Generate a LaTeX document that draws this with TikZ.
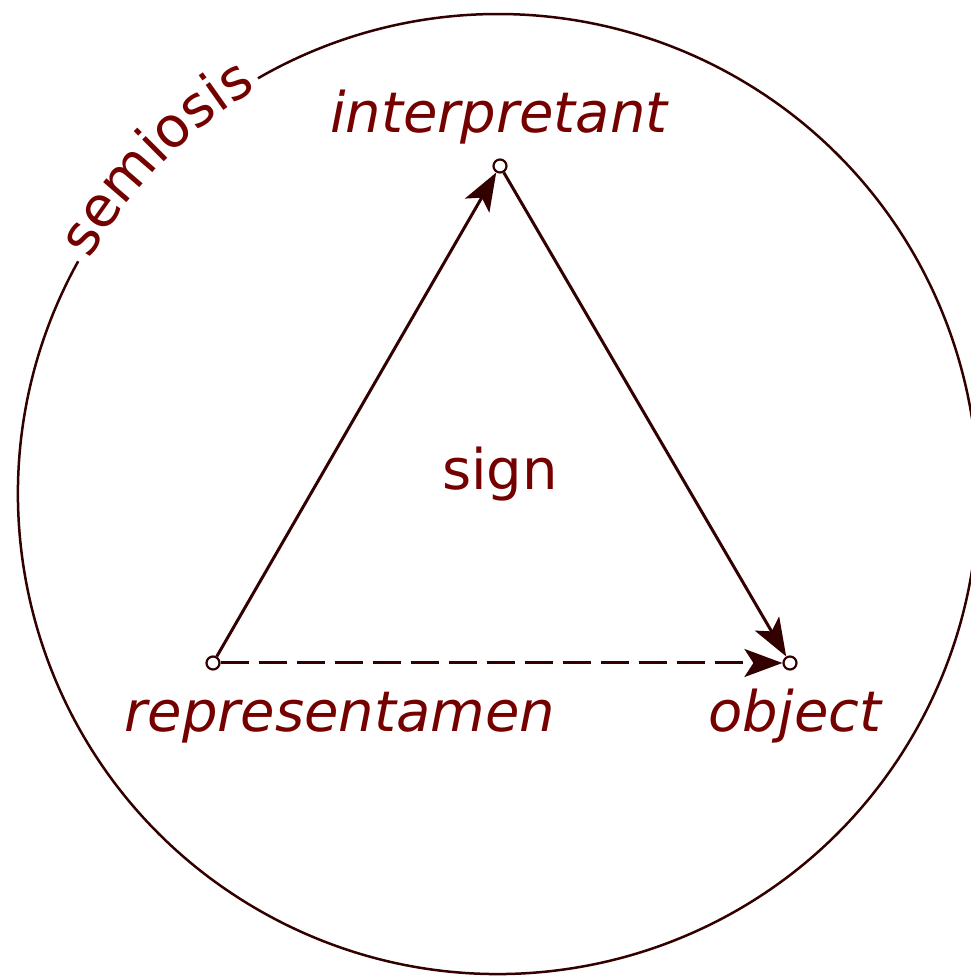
\documentclass[tikz,border=0pt]{standalone}
\usepackage{fontspec}
\setmainfont{DejaVu Sans}
\usetikzlibrary{arrows.meta,decorations.text}
\definecolor{txtred}{HTML}{750000}
\definecolor{linered}{HTML}{330000}
\tikzset{
  vertex/.style={circle, draw=linered, fill=white, line width=2.2pt, minimum size=13pt, inner sep=0pt},
  conn/.style={draw=linered, line width=3pt, -{Stealth[length=38pt, width=28pt, inset=9pt]}},
  lbl/.style={text=txtred, font=\fontsize{56}{60}\selectfont, anchor=base, inner sep=0pt},
  ring/.style={draw=linered, line width=2.5pt}
}
\begin{document}
\begin{tikzpicture}[x=1pt,y=1pt]
\useasboundingbox (0,0) rectangle (971,978);
\coordinate (c) at (498,484);
% circle with gap for the label
\draw[ring] (c) ++(151:480) arc[start angle=151, end angle=480, radius=480];
\path[decorate, decoration={text along path, text align=center,
  text={|\fontsize{56}{60}\selectfont\color{txtred}|semiosis}}]
  (c) ++(153:471) arc[start angle=153, end angle=118, radius=471];
% vertices
\node[vertex] (I) at (500,812) {};
\node[vertex] (R) at (213,315) {};
\node[vertex] (O) at (790,315) {};
% connectors
\draw[conn] (R) -- (I);
\draw[conn] (I) -- (O);
\draw[conn, dash pattern=on 28pt off 10pt] (R) -- (O);
% labels
\node[lbl, font=\fontsize{56}{60}\selectfont\itshape] (ti) at (499,845) {interpretant};
\node[lbl, font=\fontsize{56}{60}\selectfont\itshape] (tr) at (340,246) {representamen};
\node[lbl, font=\fontsize{56}{60}\selectfont\itshape] (to) at (795,246) {object};
\node[lbl] (ts) at (500,488) {sign};
\end{tikzpicture}
\end{document}
